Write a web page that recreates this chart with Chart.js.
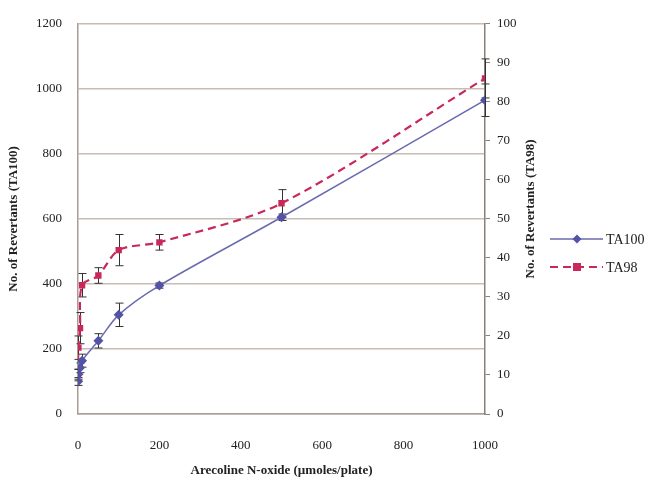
<!DOCTYPE html>
<html>
<head>
<meta charset="utf-8">
<style>
  html, body { margin: 0; padding: 0; background: #fff; }
  #wrap { width: 654px; height: 482px; }
</style>
<script src="https://cdn.jsdelivr.net/npm/chart.js@4.4.0/dist/chart.umd.min.js"></script>
</head>
<body>
<div id="wrap"><canvas id="chart" width="654" height="482"></canvas></div>
<script>
// doses (umoles/plate)
const doses = [0, 1, 5, 10, 50, 100, 200, 500, 1000];
// TA100, left axis
const ta100 = [100, 122, 142, 164, 225, 305, 395, 605, 965];
const ta100Err = [12, 15, 15, 20, 22, 36, 8, 10, 50];
// TA98, right axis
const ta98 = [10, 17, 22, 33, 35.5, 42, 44, 54, 86];
const ta98Err = [1.5, 3, 4, 3, 2, 4, 2, 3.5, 5];

const xTicks = [0, 200, 400, 600, 800, 1000];
const serif = '"Liberation Serif", "Times New Roman", serif';
const blue = '#5252a6';
const red = '#c8285a';

function toPoints(ys) {
    return doses.map((d, i) => ({ x: d, y: ys[i] }));
}

const plainTick = (value) => String(value);

// error bars, drawn under the markers
const errorBars = {
    id: 'errorBars',
    beforeDatasetsDraw(chart) {
        const c = chart.ctx;
        const xs = chart.scales.x;
        const sets = [
            { axis: chart.scales.y, vals: ta100, errs: ta100Err },
            { axis: chart.scales.y2, vals: ta98, errs: ta98Err }
        ];
        c.save();
        c.strokeStyle = '#333';
        c.lineWidth = 1;
        sets.forEach(s => {
            doses.forEach((d, i) => {
                const px = Math.round(xs.getPixelForValue(d)) + 0.5;
                const top = s.axis.getPixelForValue(s.vals[i] + s.errs[i]);
                const bot = s.axis.getPixelForValue(s.vals[i] - s.errs[i]);
                c.beginPath();
                c.moveTo(px, top); c.lineTo(px, bot);
                c.moveTo(px - 4, top); c.lineTo(px + 4, top);
                c.moveTo(px - 4, bot); c.lineTo(px + 4, bot);
                c.stroke();
            });
        });
        c.restore();
    }
};

// right axis title (reads bottom to top) and legend
const extras = {
    id: 'extras',
    afterDraw(chart) {
        const c = chart.ctx;
        const area = chart.chartArea;
        c.save();
        c.fillStyle = '#222';
        c.font = 'bold 13px ' + serif;
        c.textAlign = 'center';
        c.textBaseline = 'middle';
        c.translate(531, (area.top + area.bottom) / 2 - 10);
        c.rotate(-Math.PI / 2);
        c.fillText('No. of Revertants (TA98)', 0, 0);
        c.restore();

        const rows = [
            { label: 'TA100', color: blue, line: '#6a6ab0', dash: [], style: 'diamond', y: 239 },
            { label: 'TA98', color: red, line: red, dash: [8, 5], style: 'square', y: 267 }
        ];
        c.save();
        rows.forEach(r => {
            c.strokeStyle = r.line;
            c.lineWidth = r.dash.length ? 2 : 1.5;
            c.setLineDash(r.dash);
            c.beginPath();
            c.moveTo(550, r.y); c.lineTo(603, r.y);
            c.stroke();
            c.setLineDash([]);
            c.fillStyle = r.color;
            c.beginPath();
            if (r.style === 'diamond') {
                c.moveTo(577, r.y - 4.5); c.lineTo(581.5, r.y); c.lineTo(577, r.y + 4.5); c.lineTo(572.5, r.y);
                c.closePath();
                c.fill();
            } else {
                c.fillRect(573, r.y - 4, 8, 8);
            }
            c.fillStyle = '#222';
            c.font = '14px ' + serif;
            c.textAlign = 'left';
            c.textBaseline = 'middle';
            c.fillText(r.label, 606, r.y + 1);
        });
        c.restore();
    }
};

new Chart(document.getElementById('chart'), {
    type: 'line',
    data: {
        datasets: [
            {
                label: 'TA100',
                data: toPoints(ta100),
                yAxisID: 'y',
                borderColor: '#6a6ab0',
                backgroundColor: blue,
                borderWidth: 1.5,
                pointStyle: 'rectRot',
                pointRadius: 5,
                pointBorderWidth: 0,
                tension: 0.3
            },
            {
                label: 'TA98',
                data: toPoints(ta98),
                yAxisID: 'y2',
                borderColor: red,
                backgroundColor: red,
                borderWidth: 2.2,
                borderDash: [8, 5],
                pointStyle: 'rect',
                pointRadius: 4.5,
                pointBorderWidth: 0,
                tension: 0.3
            }
        ]
    },
    options: {
        responsive: false,
        animation: false,
        layout: { padding: { top: 19, right: 116, left: 0, bottom: 0 } },
        plugins: {
            legend: { display: false },
            tooltip: { enabled: false }
        },
        scales: {
            x: {
                type: 'linear',
                min: 0,
                max: 1000,
                afterBuildTicks: (scale) => { scale.ticks = xTicks.map(v => ({ value: v })); },
                afterFit: (scale) => { scale.height = 68; },
                grid: { display: false, drawTicks: false },
                border: { display: true, color: '#a89c96', width: 1.5 },
                ticks: { padding: 24, color: '#222', callback: plainTick, font: { family: serif, size: 13 } },
                title: {
                    display: true,
                    text: 'Arecoline N-oxide (µmoles/plate)',
                    color: '#222',
                    padding: { top: 0, bottom: 4 },
                    font: { family: serif, size: 13, weight: 'bold' }
                }
            },
            y: {
                position: 'left',
                min: 0,
                max: 1200,
                afterFit: (scale) => { scale.width = 78; },
                grid: { color: '#c8bcb6', lineWidth: 1.5, drawTicks: false },
                border: { display: true, color: '#a89c96', width: 1.5 },
                ticks: { stepSize: 200, padding: 16, color: '#222', callback: plainTick, font: { family: serif, size: 13 } },
                title: {
                    display: true,
                    text: 'No. of Revertants (TA100)',
                    color: '#222',
                    padding: { top: 6, bottom: 0 },
                    font: { family: serif, size: 13, weight: 'bold' }
                }
            },
            y2: {
                position: 'right',
                min: 0,
                max: 100,
                afterFit: (scale) => { scale.width = 53; },
                grid: { drawOnChartArea: false, drawTicks: true, tickLength: 5, color: '#8a807a' },
                border: { display: true, color: '#8a807a', width: 1.5 },
                ticks: { stepSize: 10, padding: 7, color: '#222', callback: plainTick, font: { family: serif, size: 13 } }
            }
        }
    },
    plugins: [errorBars, extras]
});
</script>
</body>
</html>
